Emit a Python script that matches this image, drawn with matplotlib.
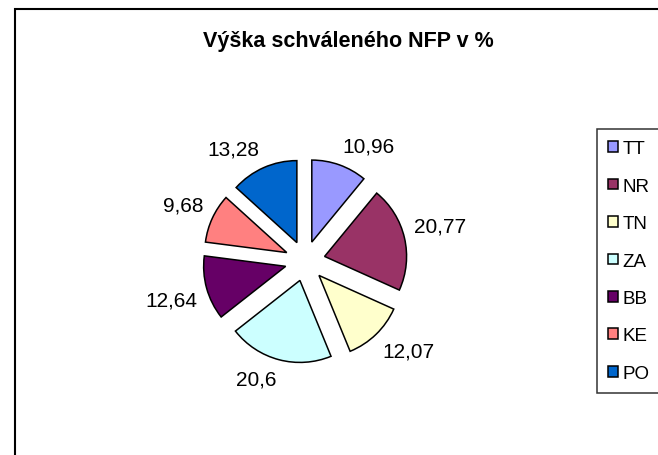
import numpy as np
import matplotlib
matplotlib.use('Agg')
import matplotlib.pyplot as plt
from matplotlib.patches import Rectangle

plt.rcParams['font.family'] = ['Liberation Sans', 'DejaVu Sans']

# Data
regions = ['TT', 'NR', 'TN', 'ZA', 'BB', 'KE', 'PO']
shares = [10.96, 20.77, 12.07, 20.6, 12.64, 9.68, 13.28]
colors = ['#9999FF', '#993366', '#FFFFCC', '#CCFFFF', '#660066', '#FF8080', '#0066CC']
title = 'Výška schváleného NFP v %'

fig = plt.figure(figsize=(6.58, 4.56), dpi=100)

# chart area border (runs off the right and bottom edge)
fig.patches.append(Rectangle((15 / 658, -0.2), 1.2, 0.2 + 1 - 10 / 456,
                             transform=fig.transFigure, fill=False,
                             edgecolor='black', linewidth=1.5, clip_on=False))

fig.text(348 / 658, 1 - 47 / 456, title, ha='center', va='baseline',
         fontsize=15.5, fontweight='bold')

ax = fig.add_axes([0.2143, 0.0658, 0.4985, 0.7193])
wedges, _ = ax.pie(shares, colors=colors, startangle=90, counterclock=False,
                   explode=[0.245] * len(shares),
                   wedgeprops=dict(edgecolor='black', linewidth=1.1))
ax.set_xlim(-2, 2)
ax.set_ylim(-2, 2)
ax.set_aspect('equal')
ax.axis('off')

# Excel-like data labels just outside each wedge
for w, v in zip(wedges, shares):
    ang = np.deg2rad((w.theta1 + w.theta2) / 2)
    cx, cy = w.center
    c, s = np.cos(ang), np.sin(ang)
    ax.text(cx + 1.12 * c, cy + 1.12 * s, f'{v:g}'.replace('.', ','),
            ha='left' if c > 0 else 'right',
            va='bottom' if s > 0 else 'top', fontsize=15)

leg = fig.legend(wedges, regions, loc='upper left',
                 bbox_to_anchor=(597 / 658, 0, 0.2, 1 - 130 / 456),
                 mode='expand', fontsize=13.5, frameon=True, fancybox=False,
                 handlelength=0.5, handleheight=0.5, handletextpad=0.25,
                 labelspacing=1.09, borderpad=0.6, borderaxespad=0)
leg.get_frame().set_edgecolor('black')
leg.get_frame().set_linewidth(1.1)
for h in leg.legend_handles:
    h.set_edgecolor('black')
    h.set_linewidth(1.1)

fig.savefig('out.png', dpi=100)
